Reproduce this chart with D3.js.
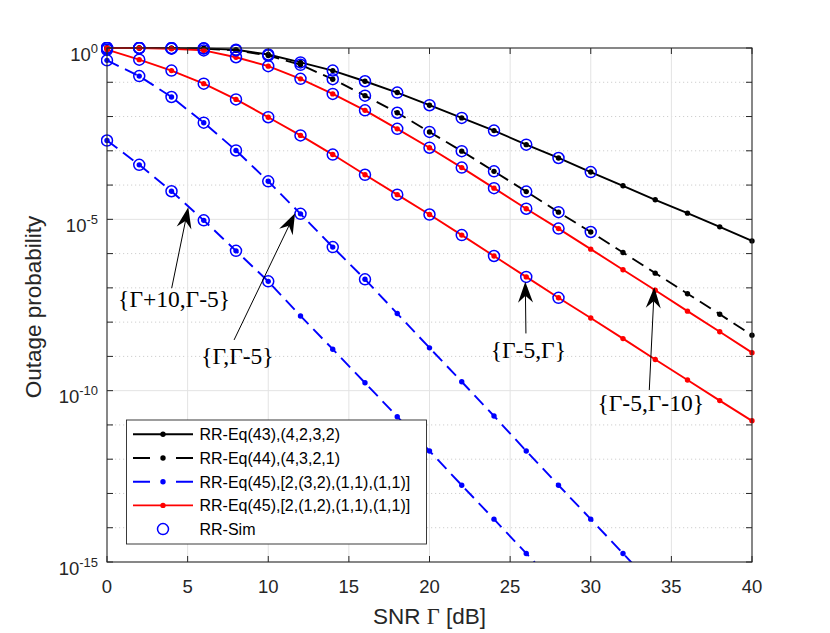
<!DOCTYPE html>
<html>
<head>
<meta charset="utf-8">
<script src="https://cdn.jsdelivr.net/npm/d3@7"></script>
<style>
  body { margin: 0; background: #fff; }
  svg { display: block; }
</style>
</head>
<body>
<div id="chart"></div>
<script>
// snr grid of the analytic curves (dB)
const snr = [0, 2, 4, 6, 8, 10, 12, 14, 16, 18, 20, 22, 24, 26, 28, 30, 32, 34, 36, 38, 40];

// log10 of outage probability
const eq43Log = [0, 0, -0.005, -0.01, -0.05, -0.19, -0.42, -0.66, -0.97, -1.30, -1.67, -2.04, -2.41, -2.82, -3.21, -3.62, -4.02, -4.43, -4.82, -5.22, -5.63];
const eq44Log = [0, 0, -0.005, -0.015, -0.07, -0.22, -0.49, -0.91, -1.39, -1.89, -2.45, -3.01, -3.60, -4.19, -4.79, -5.37, -5.97, -6.57, -7.17, -7.77, -8.38];
const eq45BlueALog = [-0.36, -0.82, -1.43, -2.18, -2.99, -3.89, -4.84, -5.81, -6.75, -7.75, -8.75, -9.74, -10.74, -11.76, -12.76, -13.75, -14.75, -15.75];
const eq45BlueBLog = [-2.70, -3.41, -4.18, -5.03, -5.92, -6.81, -7.82, -8.79, -9.77, -10.76, -11.76, -12.76, -13.75, -14.75, -15.75];
const eq45RedALog = [0, -0.005, -0.02, -0.07, -0.27, -0.53, -0.90, -1.34, -1.82, -2.36, -2.91, -3.49, -4.09, -4.69, -5.27, -5.87, -6.47, -7.07, -7.68, -8.28, -8.89];
const eq45RedBLog = [-0.05, -0.34, -0.66, -1.04, -1.50, -2.02, -2.55, -3.11, -3.70, -4.28, -4.86, -5.46, -6.07, -6.68, -7.29, -7.88, -8.48, -9.09, -9.69, -10.29, -10.88];

// simulation points (circles)
const simSnr = [0, 2, 4, 6, 8, 10, 12, 14, 16, 18, 20, 22, 24, 26, 28, 30];
const sim43Log = [0, 0, -0.005, -0.01, -0.05, -0.19, -0.42, -0.66, -0.97, -1.30, -1.67, -2.04, -2.41, -2.82, -3.21, -3.62];
const sim44Log = [0, 0, -0.005, -0.015, -0.07, -0.22, -0.49, -0.91, -1.39, -1.89, -2.45, -3.01, -3.60, -4.19, -4.79, -5.37];
const simBlueALog = [-0.36, -0.82, -1.43, -2.18, -2.99, -3.89, -4.84, -5.81, -6.75];
const simBlueBLog = [-2.70, -3.41, -4.18, -5.03, -5.92, -6.81];
const simRedALog = [0, -0.005, -0.02, -0.07, -0.27, -0.53, -0.90, -1.34, -1.82, -2.36, -2.91, -3.49, -4.09, -4.69, -5.27];
const simRedBLog = [-0.05, -0.34, -0.66, -1.04, -1.50, -2.02, -2.55, -3.11, -3.70, -4.28, -4.86, -5.46, -6.07, -6.68, -7.29];

const xTicks = [0, 5, 10, 15, 20, 25, 30, 35, 40];
const yDecades = [0, -1, -2, -3, -4, -5, -6, -7, -8, -9, -10, -11, -12, -13, -14, -15];
const yLabelExp = [0, -5, -10, -15];

const legendLabels = [
  "RR-Eq(43),(4,2,3,2)",
  "RR-Eq(44),(4,3,2,1)",
  "RR-Eq(45),[2,(3,2),(1,1),(1,1)]",
  "RR-Eq(45),[2,(1,2),(1,1),(1,1)]",
  "RR-Sim"
];

// annotations: label text, label anchor (snr, log10) and arrow tail -> tip
const noteTexts = ["{Γ+10,Γ-5}", "{Γ,Γ-5}", "{Γ-5,Γ}", "{Γ-5,Γ-10}"];
const noteLabelAt = [[4.16, -7.56], [8.09, -9.21], [26.13, -9.06], [33.72, -10.59]];
const noteArrows = [
  [4.01, -7.01, 5.04, -4.65],
  [7.88, -8.52, 11.66, -4.82],
  [25.98, -8.33, 25.94, -6.82],
  [33.63, -9.98, 33.94, -6.98]
];

const W = 830, H = 633;
const margin = { top: 48, right: 78, bottom: 71, left: 107 };
const w = W - margin.left - margin.right;
const h = H - margin.top - margin.bottom;
const axisColor = "#262626";
const sans = "'Liberation Sans', Arial, Helvetica, sans-serif";
const serif = "'Liberation Serif', 'Times New Roman', serif";
const dashed = "13,7";

const svg = d3.select("#chart").append("svg")
  .attr("width", W)
  .attr("height", H);

const g = svg.append("g").attr("transform", `translate(${margin.left},${margin.top})`);

const x = d3.scaleLinear().domain([0, 40]).range([0, w]);
const y = d3.scaleLog().domain([1e-15, 1]).range([h, 0]);

g.append("rect").attr("width", w).attr("height", h).attr("fill", "#fff");

// grid: dotted at each decade, solid at labelled ones
g.selectAll("line.ygrid")
  .data(yDecades.filter(e => e !== 0 && e !== -15))
  .enter()
  .append("line")
  .attr("x1", 0).attr("x2", w)
  .attr("y1", e => y(Math.pow(10, e))).attr("y2", e => y(Math.pow(10, e)))
  .attr("stroke", e => yLabelExp.includes(e) ? "#e3e3e3" : "#cfcfcf")
  .attr("stroke-width", 1)
  .attr("stroke-dasharray", e => yLabelExp.includes(e) ? null : "1.2,2.8");

g.selectAll("line.xgrid")
  .data(xTicks.slice(1, -1))
  .enter()
  .append("line")
  .attr("x1", d => x(d)).attr("x2", d => x(d))
  .attr("y1", 0).attr("y2", h)
  .attr("stroke", "#e3e3e3")
  .attr("stroke-width", 1);

svg.append("defs").append("clipPath").attr("id", "plot-clip")
  .append("rect").attr("x", -6).attr("y", -6).attr("width", w + 12).attr("height", h + 6);

const plot = g.append("g").attr("clip-path", "url(#plot-clip)");

const toPoints = (xs, logs) => logs.map((v, i) => ({ x: xs[i], p: Math.pow(10, v) }));

const line = d3.line().x(d => x(d.x)).y(d => y(d.p));

const curves = [
  { logs: eq43Log, color: "#000000", dash: null },
  { logs: eq44Log, color: "#000000", dash: dashed },
  { logs: eq45BlueALog, color: "#0000ff", dash: dashed },
  { logs: eq45BlueBLog, color: "#0000ff", dash: dashed },
  { logs: eq45RedALog, color: "#ff0000", dash: null },
  { logs: eq45RedBLog, color: "#ff0000", dash: null }
];

curves.forEach(c => {
  const pts = toPoints(snr, c.logs);
  plot.append("path")
    .datum(pts)
    .attr("d", line)
    .attr("fill", "none")
    .attr("stroke", c.color)
    .attr("stroke-width", 1.9)
    .attr("stroke-dasharray", c.dash);

  plot.selectAll(null)
    .data(pts.filter(d => d.p >= 1e-15))
    .enter()
    .append("circle")
    .attr("cx", d => x(d.x))
    .attr("cy", d => y(d.p))
    .attr("r", 2.7)
    .attr("fill", c.color);
});

// simulation circles
[sim43Log, sim44Log, simBlueALog, simBlueBLog, simRedALog, simRedBLog].forEach(logs => {
  plot.selectAll(null)
    .data(toPoints(simSnr, logs))
    .enter()
    .append("circle")
    .attr("cx", d => x(d.x))
    .attr("cy", d => y(d.p))
    .attr("r", 5.5)
    .attr("fill", "none")
    .attr("stroke", "#0000ff")
    .attr("stroke-width", 1.5);
});

// axes box with inward ticks
g.append("rect")
  .attr("width", w).attr("height", h)
  .attr("fill", "none")
  .attr("stroke", axisColor)
  .attr("stroke-width", 1.1);

const tickLen = 6;
xTicks.forEach(t => {
  g.append("line").attr("x1", x(t)).attr("x2", x(t)).attr("y1", h).attr("y2", h - tickLen)
    .attr("stroke", axisColor);
  g.append("line").attr("x1", x(t)).attr("x2", x(t)).attr("y1", 0).attr("y2", tickLen)
    .attr("stroke", axisColor);
});
yDecades.forEach(e => {
  const yy = y(Math.pow(10, e));
  g.append("line").attr("x1", 0).attr("x2", tickLen).attr("y1", yy).attr("y2", yy)
    .attr("stroke", axisColor);
  g.append("line").attr("x1", w).attr("x2", w - tickLen).attr("y1", yy).attr("y2", yy)
    .attr("stroke", axisColor);
});

// tick labels
g.selectAll("text.xtick")
  .data(xTicks)
  .enter()
  .append("text")
  .attr("x", d => x(d))
  .attr("y", h + 31)
  .attr("text-anchor", "middle")
  .style("font-family", sans)
  .style("font-size", "18.5px")
  .style("fill", axisColor)
  .text(d => d);

const yLab = g.selectAll("text.ytick")
  .data(yLabelExp)
  .enter()
  .append("text")
  .attr("x", -9)
  .attr("y", e => y(Math.pow(10, e)) + 12.8)
  .attr("text-anchor", "end")
  .style("font-family", sans)
  .style("font-size", "18.5px")
  .style("fill", axisColor);
yLab.append("tspan").text("10");
yLab.append("tspan").attr("dy", -8.2).style("font-size", "13px").text(e => String(e));

// axis titles
const xTitle = g.append("text")
  .attr("x", w / 2)
  .attr("y", h + 62)
  .attr("text-anchor", "middle")
  .style("font-family", sans)
  .style("font-size", "22.5px")
  .style("fill", axisColor);
xTitle.append("tspan").text("SNR ");
xTitle.append("tspan").style("font-family", serif).text("Γ");
xTitle.append("tspan").text(" [dB]");

g.append("text")
  .attr("transform", `translate(${-margin.left + 41},${h / 2 + 2}) rotate(-90)`)
  .attr("text-anchor", "middle")
  .style("font-family", sans)
  .style("font-size", "22.5px")
  .style("fill", axisColor)
  .text("Outage probability");

// annotations
const arrowG = g.append("g");
noteArrows.forEach(a => {
  const x1 = x(a[0]), y1 = y(Math.pow(10, a[1]));
  const x2 = x(a[2]), y2 = y(Math.pow(10, a[3]));
  const ang = Math.atan2(y2 - y1, x2 - x1);
  const L = 21, hw = 7.5, notch = 14;
  const ux = Math.cos(ang), uy = Math.sin(ang);
  const px = -uy, py = ux;
  arrowG.append("line")
    .attr("x1", x1).attr("y1", y1)
    .attr("x2", x2 - ux * notch).attr("y2", y2 - uy * notch)
    .attr("stroke", "#000").attr("stroke-width", 1);
  const head = [
    [x2, y2],
    [x2 - ux * L + px * hw, y2 - uy * L + py * hw],
    [x2 - ux * notch, y2 - uy * notch],
    [x2 - ux * L - px * hw, y2 - uy * L - py * hw]
  ];
  arrowG.append("polygon")
    .attr("points", head.map(p => p.join(",")).join(" "))
    .attr("fill", "#000");
});

g.selectAll("text.note")
  .data(noteTexts)
  .enter()
  .append("text")
  .attr("x", (d, i) => x(noteLabelAt[i][0]))
  .attr("y", (d, i) => y(Math.pow(10, noteLabelAt[i][1])))
  .attr("text-anchor", "middle")
  .style("font-family", serif)
  .style("font-size", "23.5px")
  .style("fill", "#000")
  .text(d => d);

// legend
const legend = svg.append("g").attr("transform", "translate(126.5,420)");
legend.append("rect")
  .attr("width", 300).attr("height", 124)
  .attr("fill", "#fff")
  .attr("stroke", axisColor)
  .attr("stroke-width", 0.9);

const legendStyle = [
  { color: "#000000", dash: null, kind: "line" },
  { color: "#000000", dash: "17,26,17", kind: "line" },
  { color: "#0000ff", dash: "17,26,17", kind: "line" },
  { color: "#ff0000", dash: null, kind: "line" },
  { color: "#0000ff", dash: null, kind: "circle" }
];

legendLabels.forEach((lab, i) => {
  const ly = 14.3 + i * 23.7;
  const s = legendStyle[i];
  if (s.kind === "line") {
    legend.append("line")
      .attr("x1", 6.5).attr("x2", 66.5).attr("y1", ly).attr("y2", ly)
      .attr("stroke", s.color).attr("stroke-width", 1.9)
      .attr("stroke-dasharray", s.dash);
    legend.append("circle").attr("cx", 36.5).attr("cy", ly).attr("r", 2.7).attr("fill", s.color);
  } else {
    legend.append("circle").attr("cx", 36.5).attr("cy", ly).attr("r", 5.5)
      .attr("fill", "none").attr("stroke", s.color).attr("stroke-width", 1.5);
  }
  legend.append("text")
    .attr("x", 73)
    .attr("y", ly + 5.8)
    .style("font-family", sans)
    .style("font-size", "16px")
    .style("fill", "#000")
    .text(lab);
});
</script>
</body>
</html>
